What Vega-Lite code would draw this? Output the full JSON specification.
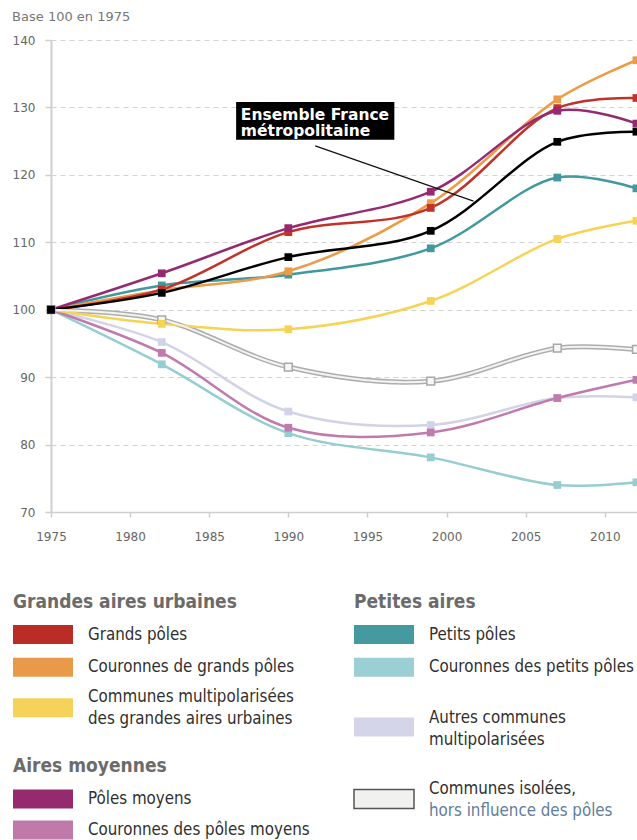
{
  "$schema": "https://vega.github.io/schema/vega-lite/v6.json",
  "padding": {"left": 10, "top": 11, "right": 0, "bottom": 0},
  "background": "white",
  "spacing": 51,
  "resolve": {"scale": {"color": "independent", "fill": "independent"}},
  "config": {"view": {"stroke": null}, "font": "DejaVu Sans"},
  "datasets": {
    "series": [
      {"series": "Communes isolées, hors influence des pôles", "year": 1975, "value": 100},
      {"series": "Communes isolées, hors influence des pôles", "year": 1982, "value": 98.5},
      {"series": "Communes isolées, hors influence des pôles", "year": 1990, "value": 91.5},
      {"series": "Communes isolées, hors influence des pôles", "year": 1999, "value": 89.4},
      {"series": "Communes isolées, hors influence des pôles", "year": 2007, "value": 94.3},
      {"series": "Communes isolées, hors influence des pôles", "year": 2012, "value": 94.1},
      {"series": "Autres communes multipolarisées", "year": 1975, "value": 100},
      {"series": "Autres communes multipolarisées", "year": 1982, "value": 95.2},
      {"series": "Autres communes multipolarisées", "year": 1990, "value": 84.9},
      {"series": "Autres communes multipolarisées", "year": 1999, "value": 82.9},
      {"series": "Autres communes multipolarisées", "year": 2007, "value": 86.9},
      {"series": "Autres communes multipolarisées", "year": 2012, "value": 87.0},
      {"series": "Couronnes des petits pôles", "year": 1975, "value": 100},
      {"series": "Couronnes des petits pôles", "year": 1982, "value": 91.9},
      {"series": "Couronnes des petits pôles", "year": 1990, "value": 81.7},
      {"series": "Couronnes des petits pôles", "year": 1999, "value": 78.1},
      {"series": "Couronnes des petits pôles", "year": 2007, "value": 74.0},
      {"series": "Couronnes des petits pôles", "year": 2012, "value": 74.4},
      {"series": "Couronnes des pôles moyens", "year": 1975, "value": 100},
      {"series": "Couronnes des pôles moyens", "year": 1982, "value": 93.6},
      {"series": "Couronnes des pôles moyens", "year": 1990, "value": 82.5},
      {"series": "Couronnes des pôles moyens", "year": 1999, "value": 81.8},
      {"series": "Couronnes des pôles moyens", "year": 2007, "value": 86.9},
      {"series": "Couronnes des pôles moyens", "year": 2012, "value": 89.6},
      {"series": "Communes multipolarisées des grandes aires urbaines", "year": 1975, "value": 100},
      {"series": "Communes multipolarisées des grandes aires urbaines", "year": 1982, "value": 97.9},
      {"series": "Communes multipolarisées des grandes aires urbaines", "year": 1990, "value": 97.1},
      {"series": "Communes multipolarisées des grandes aires urbaines", "year": 1999, "value": 101.3},
      {"series": "Communes multipolarisées des grandes aires urbaines", "year": 2007, "value": 110.5},
      {"series": "Communes multipolarisées des grandes aires urbaines", "year": 2012, "value": 113.2},
      {"series": "Petits pôles", "year": 1975, "value": 100},
      {"series": "Petits pôles", "year": 1982, "value": 103.6},
      {"series": "Petits pôles", "year": 1990, "value": 105.2},
      {"series": "Petits pôles", "year": 1999, "value": 109.1},
      {"series": "Petits pôles", "year": 2007, "value": 119.6},
      {"series": "Petits pôles", "year": 2012, "value": 118.0},
      {"series": "Couronnes de grands pôles", "year": 1975, "value": 100},
      {"series": "Couronnes de grands pôles", "year": 1982, "value": 102.9},
      {"series": "Couronnes de grands pôles", "year": 1990, "value": 105.7},
      {"series": "Couronnes de grands pôles", "year": 1999, "value": 115.8},
      {"series": "Couronnes de grands pôles", "year": 2007, "value": 131.2},
      {"series": "Couronnes de grands pôles", "year": 2012, "value": 137.0},
      {"series": "Grands pôles", "year": 1975, "value": 100},
      {"series": "Grands pôles", "year": 1982, "value": 103.0},
      {"series": "Grands pôles", "year": 1990, "value": 111.5},
      {"series": "Grands pôles", "year": 1999, "value": 115.1},
      {"series": "Grands pôles", "year": 2007, "value": 129.9},
      {"series": "Grands pôles", "year": 2012, "value": 131.4},
      {"series": "Pôles moyens", "year": 1975, "value": 100},
      {"series": "Pôles moyens", "year": 1982, "value": 105.4},
      {"series": "Pôles moyens", "year": 1990, "value": 112.1},
      {"series": "Pôles moyens", "year": 1999, "value": 117.5},
      {"series": "Pôles moyens", "year": 2007, "value": 129.5},
      {"series": "Pôles moyens", "year": 2012, "value": 127.6},
      {"series": "Ensemble France métropolitaine", "year": 1975, "value": 100},
      {"series": "Ensemble France métropolitaine", "year": 1982, "value": 102.5},
      {"series": "Ensemble France métropolitaine", "year": 1990, "value": 107.8},
      {"series": "Ensemble France métropolitaine", "year": 1999, "value": 111.7},
      {"series": "Ensemble France métropolitaine", "year": 2007, "value": 124.9},
      {"series": "Ensemble France métropolitaine", "year": 2012, "value": 126.4}
    ],
    "annotBox": [{"year": 1986.7, "year2": 1996.7, "value": 130.8, "value2": 125.2}],
    "annotText": [
      {"year": 1987.0, "value": 128.9, "label": "Ensemble France"},
      {"year": 1987.0, "value": 126.5, "label": "métropolitaine"}
    ],
    "leader": [{"year": 1991.7, "year2": 2001.7, "value": 124.3, "value2": 116.1}],
    "legendSwatches": [
      {"key": "Grands pôles", "col": 0, "row": 1.0},
      {"key": "Couronnes de grands pôles", "col": 0, "row": 2.0},
      {"key": "Communes multipolarisées des grandes aires urbaines", "col": 0, "row": 3.25},
      {"key": "Pôles moyens", "col": 0, "row": 6.05},
      {"key": "Couronnes des pôles moyens", "col": 0, "row": 7.0},
      {"key": "Petits pôles", "col": 1, "row": 1.0},
      {"key": "Couronnes des petits pôles", "col": 1, "row": 2.0},
      {"key": "Autres communes multipolarisées", "col": 1, "row": 3.84},
      {"key": "Communes isolées, hors influence des pôles", "col": 1, "row": 6.05}
    ],
    "legendHeaders": [
      {"label": "Grandes aires urbaines", "col": 0, "row": 0},
      {"label": "Aires moyennes", "col": 0, "row": 5.04},
      {"label": "Petites aires", "col": 1, "row": 0}
    ],
    "legendText": [
      {"label": "Grands pôles", "col": 0, "row": 1.0, "tone": "main"},
      {"label": "Couronnes de grands pôles", "col": 0, "row": 2.0, "tone": "main"},
      {"label": "Communes multipolarisées", "col": 0, "row": 2.92, "tone": "main"},
      {"label": "des grandes aires urbaines", "col": 0, "row": 3.59, "tone": "main"},
      {"label": "Pôles moyens", "col": 0, "row": 6.05, "tone": "main"},
      {"label": "Couronnes des pôles moyens", "col": 0, "row": 7.0, "tone": "main"},
      {"label": "Petits pôles", "col": 1, "row": 1.0, "tone": "main"},
      {"label": "Couronnes des petits pôles", "col": 1, "row": 2.0, "tone": "main"},
      {"label": "Autres communes", "col": 1, "row": 3.56, "tone": "main"},
      {"label": "multipolarisées", "col": 1, "row": 4.24, "tone": "main"},
      {"label": "Communes isolées,", "col": 1, "row": 5.74, "tone": "main"},
      {"label": "hors influence des pôles", "col": 1, "row": 6.42, "tone": "note"}
    ]
  },
  "vconcat": [
    {
      "width": 587,
      "height": 472,
      "title": {"text": "Base 100 en 1975", "anchor": "start", "frame": "bounds", "fontSize": 13, "fontWeight": "normal", "color": "#777777", "font": "DejaVu Sans", "offset": 10},
      "layer": [
        {
          "data": {"name": "series"},
          "mark": {"type": "line", "interpolate": "catmull-rom"},
          "encoding": {
            "x": {"field": "year", "type": "quantitative",
              "scale": {"domain": [1975, 2012.1], "nice": false, "zero": false},
              "axis": {"title": null, "values": [1975, 1980, 1985, 1990, 1995, 2000, 2005, 2010], "format": "d", "grid": false,
                "domainColor": "#cfcfcf", "domainWidth": 1.5, "tickColor": "#cfcfcf", "tickWidth": 1.5, "tickSize": 5,
                "labelFontSize": 12, "labelColor": "#666666", "labelPadding": 14, "labelFont": "DejaVu Sans", "labelFlush": false}},
            "y": {"field": "value", "type": "quantitative",
              "scale": {"domain": [70, 140], "nice": false, "zero": false},
              "axis": {"title": null, "values": [70, 80, 90, 100, 110, 120, 130, 140], "grid": true, "gridDash": [5, 4], "gridColor": "#d2d2d2", "gridWidth": 1.2,
                "domainColor": "#cfcfcf", "domainWidth": 2, "tickColor": "#cfcfcf", "tickWidth": 1.5, "tickSize": 6,
                "labelFontSize": 12, "labelColor": "#666666", "labelPadding": 10, "labelFont": "DejaVu Sans"}},
            "color": {"field": "series", "type": "nominal", "legend": null,
              "scale": {
                "domain": ["Grands pôles", "Couronnes de grands pôles", "Communes multipolarisées des grandes aires urbaines", "Pôles moyens", "Couronnes des pôles moyens", "Petits pôles", "Couronnes des petits pôles", "Autres communes multipolarisées", "Communes isolées, hors influence des pôles", "Ensemble France métropolitaine"],
                "range": ["#c0322a", "#ec9b46", "#f6d352", "#962a72", "#c07aae", "#41989d", "#95cdd0", "#d3d3e8", "#adadad", "#000000"]}},
            "strokeWidth": {"condition": {"test": "datum.series === 'Communes isolées, hors influence des pôles'", "value": 5}, "value": 2.5}
          }
        },
        {
          "data": {"name": "series"},
          "transform": [{"filter": "datum.series === 'Communes isolées, hors influence des pôles'"}],
          "mark": {"type": "line", "interpolate": "catmull-rom", "color": "#f3f3f1", "strokeWidth": 2},
          "encoding": {
            "x": {"field": "year", "type": "quantitative"},
            "y": {"field": "value", "type": "quantitative"}
          }
        },
        {
          "data": {"name": "series"},
          "transform": [{"filter": "datum.series === 'Communes isolées, hors influence des pôles'"}],
          "mark": {"type": "point", "shape": "square", "filled": true, "size": 60, "opacity": 1, "fill": "#f6f6f4", "stroke": "#a8a8a8", "strokeWidth": 1.5},
          "encoding": {
            "x": {"field": "year", "type": "quantitative"},
            "y": {"field": "value", "type": "quantitative"}
          }
        },
        {
          "data": {"name": "series"},
          "transform": [{"filter": "datum.series !== 'Communes isolées, hors influence des pôles'"}],
          "mark": {"type": "point", "shape": "square", "filled": true, "size": 60, "opacity": 1},
          "encoding": {
            "x": {"field": "year", "type": "quantitative"},
            "y": {"field": "value", "type": "quantitative"},
            "color": {"field": "series", "type": "nominal", "legend": null}
          }
        },
        {
          "data": {"name": "leader"},
          "mark": {"type": "rule", "color": "#111111", "strokeWidth": 1.2},
          "encoding": {
            "x": {"field": "year", "type": "quantitative"},
            "x2": {"field": "year2"},
            "y": {"field": "value", "type": "quantitative"},
            "y2": {"field": "value2"}
          }
        },
        {
          "data": {"name": "annotBox"},
          "mark": {"type": "rect", "color": "#000000"},
          "encoding": {
            "x": {"field": "year", "type": "quantitative"},
            "x2": {"field": "year2"},
            "y": {"field": "value", "type": "quantitative"},
            "y2": {"field": "value2"}
          }
        },
        {
          "data": {"name": "annotText"},
          "mark": {"type": "text", "align": "left", "baseline": "middle", "color": "#ffffff", "font": "DejaVu Sans", "fontWeight": "bold", "fontSize": 15.5},
          "encoding": {
            "x": {"field": "year", "type": "quantitative"},
            "y": {"field": "value", "type": "quantitative"},
            "text": {"field": "label"}
          }
        }
      ]
    },
    {
      "width": 341,
      "height": 228,
      "layer": [
        {
          "data": {"name": "legendSwatches"},
          "mark": {"type": "point", "shape": "M0,-0.317H2V0.317H0Z", "size": 3600, "filled": true, "opacity": 1, "strokeWidth": 1.5},
          "encoding": {
            "x": {"field": "col", "type": "quantitative", "scale": {"domain": [0, 1], "range": [-38, 303], "nice": false, "zero": false}, "axis": null},
            "y": {"field": "row", "type": "quantitative", "scale": {"domain": [0, 7], "nice": false, "zero": false, "reverse": true}, "axis": null},
            "fill": {"field": "key", "type": "nominal", "legend": null,
              "scale": {
                "domain": ["Grands pôles", "Couronnes de grands pôles", "Communes multipolarisées des grandes aires urbaines", "Pôles moyens", "Couronnes des pôles moyens", "Petits pôles", "Couronnes des petits pôles", "Autres communes multipolarisées", "Communes isolées, hors influence des pôles"],
                "range": ["#b92d26", "#e89a48", "#f5d35a", "#952a6e", "#bd7aab", "#449a9f", "#9ccfd3", "#d5d5e9", "#f1f1ed"]}},
            "stroke": {"condition": {"test": "datum.key === 'Communes isolées, hors influence des pôles'", "value": "#555555"}, "value": "transparent"}
          }
        },
        {
          "data": {"name": "legendHeaders"},
          "mark": {"type": "text", "align": "left", "baseline": "middle", "font": "DejaVu Sans Condensed, Roboto Condensed, Liberation Sans Narrow, Roboto, sans-serif", "fontWeight": "bold", "fontSize": 19, "color": "#6b6b6b"},
          "encoding": {
            "x": {"field": "col", "type": "quantitative"},
            "y": {"field": "row", "type": "quantitative"},
            "text": {"field": "label"}
          }
        },
        {
          "data": {"name": "legendText"},
          "mark": {"type": "text", "align": "left", "baseline": "middle", "font": "DejaVu Sans Condensed, Roboto Condensed, Liberation Sans Narrow, Roboto, sans-serif", "fontSize": 16.8, "dx": 75},
          "encoding": {
            "x": {"field": "col", "type": "quantitative"},
            "y": {"field": "row", "type": "quantitative"},
            "text": {"field": "label"},
            "color": {"field": "tone", "type": "nominal", "legend": null, "scale": {"domain": ["main", "note"], "range": ["#2f2f2f", "#5f7d9c"]}}
          }
        }
      ]
    }
  ]
}
